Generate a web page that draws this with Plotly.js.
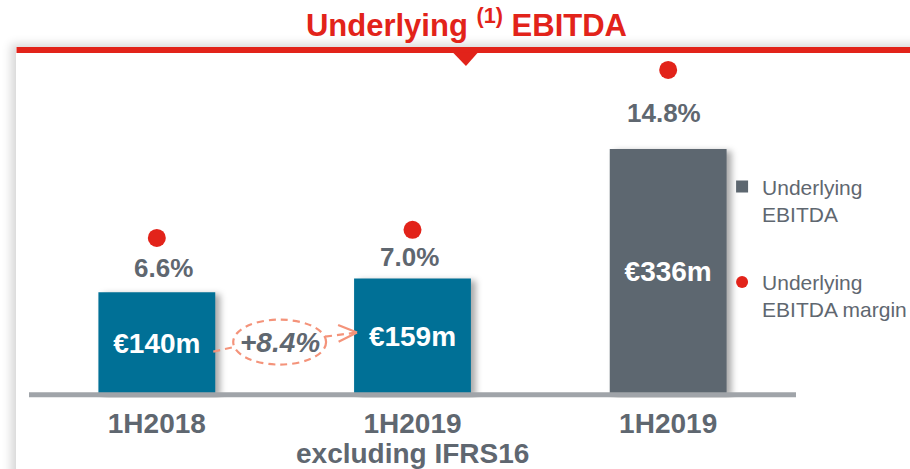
<!DOCTYPE html>
<html>
<head>
<meta charset="utf-8">
<script src="https://cdn.plot.ly/plotly-3.0.1.min.js"></script>
<style>
  html, body { margin: 0; padding: 0; background: #ffffff; }
  #wrap { position: relative; width: 910px; height: 469px; overflow: hidden; }
  #panel { position: absolute; left: 16px; top: 47px; width: 920px; height: 440px; background: #ffffff;
           box-shadow: -5px -3px 9px rgba(0,0,0,0.16); }
  #chart { position: absolute; left: 0; top: 0; width: 910px; height: 469px; }
</style>
</head>
<body>
<div id="wrap">
  <div id="panel"></div>
  <div id="chart"></div>
</div>
<script>
// ---- data ----
const categories = ['1H2018', '1H2019 excl. IFRS16', '1H2019'];
const tickLabels = ['1H2018', '1H2019', '1H2019'];
const tickSubLabels = ['', 'excluding IFRS16', ''];
const ebitda = [140, 159, 336];
const ebitdaLabels = ['€140m', '€159m', '€336m'];
const marginPct = [6.6, 7.0, 14.8];
const growthLabel = '+8.4%';
const seriesNames = ['Underlying<br>EBITDA', 'Underlying<br>EBITDA margin'];
const titleText = 'Underlying <sup>(1)</sup> EBITDA';

// ---- styles ----
const FONT = 'Liberation Sans, Arial, Helvetica, sans-serif';
const RED = '#e2231a';
const TEAL = '#007096';
const SLATE = '#5d6770';
const TEXTGREY = '#5f6770';
const SALMON = '#f4937a';
const labelOffsets = [{dx: 7, dy: -30}, {dx: -3.5, dy: -27}, {dx: -4, dy: -43}];

const barCommon = {
  type: 'bar', width: 0.457,
  textposition: 'inside', insidetextanchor: 'middle', textangle: 0,
  constraintext: 'none', cliponaxis: false,
  textfont: {family: FONT, size: 28, color: '#ffffff', weight: 'bold'},
  hoverinfo: 'skip'
};

const traces = [
  Object.assign({}, barCommon, {
    x: categories.slice(0, 2), y: ebitda.slice(0, 2), text: ebitdaLabels.slice(0, 2),
    marker: {color: TEAL}, showlegend: false, legendgroup: 'a'
  }),
  Object.assign({}, barCommon, {
    x: categories.slice(2), y: ebitda.slice(2), text: ebitdaLabels.slice(2),
    marker: {color: SLATE}, name: seriesNames[0], legendgroup: 'a'
  }),
  {
    type: 'scatter', mode: 'markers', x: categories, y: marginPct, yaxis: 'y2',
    marker: {color: RED, size: 18}, name: seriesNames[1], legendgroup: 'b',
    cliponaxis: false, hoverinfo: 'skip'
  }
];

const annotations = marginPct.map((v, i) => ({
  x: categories[i], y: v, xref: 'x', yref: 'y2', showarrow: false,
  text: v.toFixed(1) + '%', xshift: labelOffsets[i].dx, yshift: labelOffsets[i].dy,
  font: {family: FONT, size: 26, color: TEXTGREY, weight: 'bold'}
}));
annotations.push({
  x: 0.480, y: 71.3, xref: 'x', yref: 'y', showarrow: false,
  text: '<i>' + growthLabel + '</i>',
  font: {family: FONT, size: 28, color: TEXTGREY, weight: 'bold'}
});
tickSubLabels.forEach((s, i) => {
  if (!s) return;
  annotations.push({
    x: categories[i], xref: 'x', y: -0.1593, yref: 'paper', yanchor: 'middle', showarrow: false,
    text: s, font: {family: FONT, size: 28, color: TEXTGREY, weight: 'bold'}
  });
});

const dashLine = {color: SALMON, width: 2.2, dash: '7px,5px'};
const shapes = [
  // red top rule
  {type: 'rect', xref: 'paper', yref: 'paper', x0: -0.0163, x1: 1.15, y0: 0.983, y1: 1.0,
   fillcolor: RED, line: {width: 0}, layer: 'above'},
  // pointer triangle
  {type: 'path', xref: 'paper', yref: 'paper',
   path: 'M0.5527,0.984 L0.5853,0.984 L0.5697,0.9459 Z', fillcolor: RED, line: {width: 0}, layer: 'above'},
  // baseline
  {type: 'line', xref: 'paper', yref: 'y', x0: 0, x1: 1, y0: 0, y1: 0,
   line: {color: '#a0a4a9', width: 5}, layer: 'above'},
  // growth ellipse & arrow
  {type: 'circle', xref: 'x', yref: 'y', x0: 0.2988, x1: 0.662, y0: 41.3, y1: 102.7, line: dashLine, layer: 'above'},
  {type: 'line', xref: 'x', yref: 'y', x0: 0.2207, y0: 59.1, x1: 0.2988, y1: 65.0, line: dashLine, layer: 'above'},
  {type: 'line', xref: 'x', yref: 'y', x0: 0.658, y0: 79.5, x1: 0.781, y1: 85.0, line: dashLine, layer: 'above'},
  {type: 'line', xref: 'x', yref: 'y', x0: 0.709, y0: 95.5, x1: 0.783, y1: 85.0, line: {color: SALMON, width: 2.2}, layer: 'above'},
  {type: 'line', xref: 'x', yref: 'y', x0: 0.711, y0: 72.5, x1: 0.783, y1: 85.0, line: {color: SALMON, width: 2.2}, layer: 'above'}
];

const layout = {
  width: 910, height: 469,
  margin: {l: 28.5, r: 113.5, t: 47, b: 70.5, pad: 0, autoexpand: false},
  paper_bgcolor: 'rgba(0,0,0,0)', plot_bgcolor: 'rgba(0,0,0,0)',
  font: {family: FONT, color: TEXTGREY},
  title: {text: titleText, xref: 'container', yref: 'container', x: 0.5126, y: 0.9455,
          xanchor: 'center', yanchor: 'middle',
          font: {family: FONT, size: 31, color: RED, weight: 'bold'}},
  barmode: 'overlay',
  xaxis: {type: 'category', categoryorder: 'array', categoryarray: categories,
          range: [-0.5, 2.5], tickmode: 'array', tickvals: categories, ticktext: tickLabels,
          showgrid: false, zeroline: false, showline: false, ticks: '', fixedrange: true,
          automargin: false, ticklabelstandoff: 6,
          tickfont: {family: FONT, size: 28, color: TEXTGREY, weight: 'bold'}},
  yaxis: {range: [-4.37, 475.2], visible: false, showgrid: false, zeroline: false, fixedrange: true},
  yaxis2: {range: [-1.209, 15.92], overlaying: 'y', side: 'right', visible: false,
           showgrid: false, zeroline: false, fixedrange: true},
  showlegend: true,
  legend: {xref: 'container', yref: 'container', x: 0.7935, y: 0.6455, xanchor: 'left', yanchor: 'top', valign: 'top',
           traceorder: 'grouped', tracegroupgap: 38, itemsizing: 'constant',
           bgcolor: 'rgba(0,0,0,0)', borderwidth: 0,
           font: {family: FONT, size: 21, color: TEXTGREY}},
  annotations: annotations,
  shapes: shapes
};

Plotly.newPlot('chart', traces, layout, {staticPlot: true, displayModeBar: false}).then(gd => {
  gd.querySelectorAll('.barlayer .trace .point path').forEach(p => {
    p.style.filter = 'drop-shadow(5px 2px 3px rgba(0,0,0,0.33))';
  });
});
</script>
</body>
</html>
